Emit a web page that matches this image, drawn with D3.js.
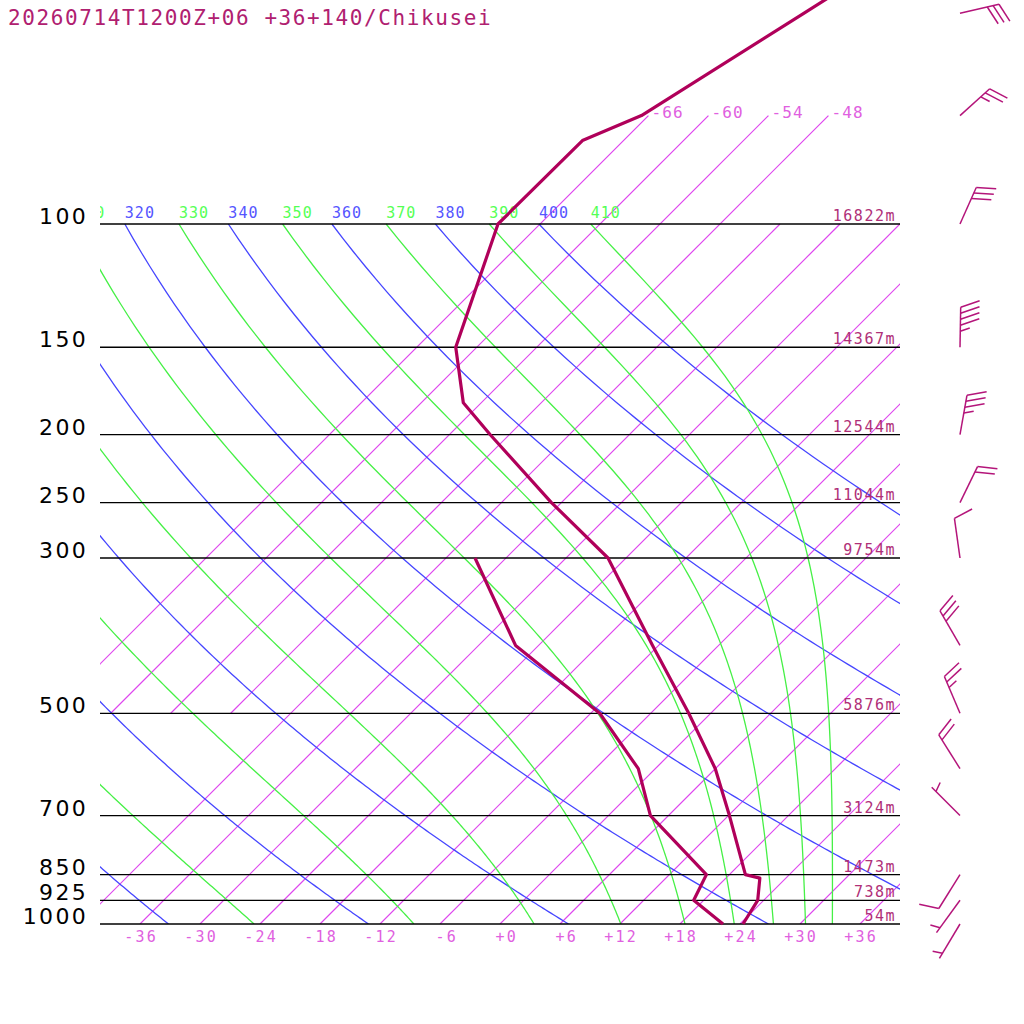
<!DOCTYPE html>
<html>
<head>
<meta charset="utf-8">
<script src="https://cdn.jsdelivr.net/npm/d3@7"></script>
<style>
body { margin: 0; background: #fff; }
text { white-space: pre; }
</style>
</head>
<body>
<div id="chart"></div>
<script>
'use strict'

const title = '20260714T1200Z+06 +36+140/Chikusei'

// standard levels and geopotential heights
const stdLevels = [1000, 925, 850, 700, 500, 300, 250, 200, 150, 100]
const stdHeights = [54, 738, 1473, 3124, 5876, 9754, 11044, 12544, 14367, 16822]

// temperature profile (hPa, degC)
const tempP = [1000, 925, 860, 850, 700, 600, 500, 400, 300, 250, 200, 180, 150, 100, 76, 70, 50, 40]
const tempT = [24.3, 23.4, 21.4, 19.6, 12.1, 6.0, -2.2, -12.6, -25.8, -37.0, -49.9, -55.8, -62.1, -70.2, -70.1, -66.7, -60.7, -56.7]

// dewpoint profile
const dewP = [1000, 925, 850, 700, 600, 500, 400, 300]
const dewT = [22.3, 17.0, 15.7, 4.2, -1.7, -11.1, -26.3, -39.1]

// winds (direction deg, speed kt)
const windP = [1000, 925, 850, 700, 600, 500, 400, 300, 250, 200, 150, 100, 70, 50]
const windDir = [211, 216, 212, 315, 328, 337, 330, 352, 26, 10, 1, 24, 48, 77]
const windKt = [5, 5, 10, 5, 20, 25, 30, 10, 20, 35, 45, 30, 25, 30]

// grid lines
const tempTicks = d3.range(-36, 37, 6)
const isoWarm = d3.range(-42, 37, 6)
const isoCold = [-66, -60, -54, -48]
const dryTheta = d3.range(240, 401, 20)
const moistThetaE = d3.range(250, 411, 20)

////////////////////////////////////
//////////// svg setup /////////////
////////////////////////////////////

const W = 1024, H = 1024
const svg = d3.select('#chart').append('svg')
    .attr('width', W)
    .attr('height', H)
    .style('background', '#fff')

const y = d3.scaleLog().domain([1000, 100]).range([924, 224])
const xT = d3.scaleLinear().domain([-40, 40]).range([100, 900])
const skewX = (t, p) => xT(t) + (y(1000) - y(p))

const lineGen = d3.line().x(d => skewX(d.t, d.p)).y(d => y(d.p))

const defs = svg.append('defs')
defs.append('clipPath').attr('id', 'plot-clip')
    .append('rect').attr('x', 100).attr('y', 0).attr('width', 800).attr('height', 924)

const mono = '"DejaVu Sans Mono", monospace'
const isoColor = 'rgb(222, 70, 238)'

////////////////////////////////////
////////// thermodynamics //////////
////////////////////////////////////

const es = t => 6.112 * Math.exp(17.67 * t / (t + 243.5))

function thetaE(t, p) {
    const e = es(t)
    if (e > 0.8 * p) return 1e9
    const r = 622 * e / (p - e)
    const tk = t + 273.15
    const th = tk * Math.pow(1000 / p, 0.2854 * (1 - 0.00028 * r))
    return th * Math.exp((3.376 / tk - 0.00254) * r * (1 + 0.00081 * r))
}

function moistT(te, p) {
    let lo = -160, hi = 60
    for (let i = 0; i < 50; i++) {
        const mid = (lo + hi) / 2
        if (thetaE(mid, p) > te) hi = mid; else lo = mid
    }
    return (lo + hi) / 2
}

const pLevels = d3.range(1000, 99, -5)

////////////////////////////////////
/////////////// grid ///////////////
////////////////////////////////////

const grid = svg.append('g').attr('clip-path', 'url(#plot-clip)')
    .attr('fill', 'none')

// isotherms
const isoGroup = grid.append('g').attr('stroke', isoColor).attr('stroke-width', 1.2)
isoWarm.forEach(t => {
    isoGroup.append('line')
        .attr('x1', skewX(t, 1000)).attr('y1', y(1000))
        .attr('x2', skewX(t, 100)).attr('y2', y(100))
})
isoCold.forEach(t => {
    isoGroup.append('line')
        .attr('x1', skewX(t, 500)).attr('y1', y(500))
        .attr('x2', skewX(t, 70)).attr('y2', y(70))
})

// dry adiabats
dryTheta.forEach(th => {
    const pts = pLevels.map(p => ({p: p, t: th * Math.pow(p / 1000, 0.286) - 273.15}))
    grid.append('path').attr('d', lineGen(pts))
        .attr('stroke', '#4646ff').attr('stroke-width', 1.3)
})

// moist adiabats
moistThetaE.forEach(te => {
    const pts = pLevels.map(p => ({p: p, t: moistT(te, p)}))
    grid.append('path').attr('d', lineGen(pts))
        .attr('stroke', '#46f046').attr('stroke-width', 1.3)
})

// adiabat labels along 100 hPa
const labels = svg.append('g').attr('clip-path', 'url(#plot-clip)')
    .style('font-family', mono).style('font-size', '15px').style('letter-spacing', '1px')
dryTheta.forEach(th => {
    const x = skewX(th * Math.pow(0.1, 0.286) - 273.15, 100)
    if (x < 70) return
    labels.append('text').attr('x', x).attr('y', 218)
        .attr('fill', '#5555ff').text(th)
})
moistThetaE.forEach(te => {
    const x = skewX(moistT(te, 100), 100)
    if (x < 70) return
    labels.append('text').attr('x', x).attr('y', 218)
        .attr('fill', '#55ff55').text(te)
})

// cold isotherm labels
isoCold.forEach(t => {
    svg.append('text').attr('x', skewX(t, 70) + 3).attr('y', y(70) + 2)
        .style('font-family', mono).style('font-size', '16px').style('letter-spacing', '1.2px')
        .attr('fill', '#e060e0').text(t)
})

// pressure lines
stdLevels.forEach((p, i) => {
    svg.append('line').attr('x1', 100).attr('x2', 900).attr('y1', y(p)).attr('y2', y(p))
        .attr('stroke', '#000').attr('stroke-width', 1.3)
    svg.append('text').attr('x', 88).attr('y', y(p))
        .attr('text-anchor', 'end')
        .style('font-family', '"DejaVu Sans", sans-serif').style('font-size', '22px')
        .style('letter-spacing', '2.3px')
        .attr('fill', '#000').text(p)
    svg.append('text').attr('x', 896).attr('y', y(p) - 3)
        .attr('text-anchor', 'end')
        .style('font-family', mono).style('font-size', '15px').style('letter-spacing', '1.5px')
        .attr('fill', '#b03078').text(stdHeights[i] + 'm')
})

// temperature axis labels
tempTicks.forEach(t => {
    svg.append('text').attr('x', xT(t) + 18).attr('y', 942)
        .attr('text-anchor', 'end')
        .style('font-family', mono).style('font-size', '15px').style('letter-spacing', '2.2px')
        .attr('fill', '#e060e0').text((t >= 0 ? '+' : '') + t)
})

////////////////////////////////////
///////////// profiles /////////////
////////////////////////////////////

const tempData = tempP.map((p, i) => ({p: p, t: tempT[i]}))
const dewData = dewP.map((p, i) => ({p: p, t: dewT[i]}))

svg.append('path').attr('d', lineGen(tempData))
    .attr('fill', 'none').attr('stroke', '#b0005a').attr('stroke-width', 3.2)
    .attr('stroke-linejoin', 'round')
svg.append('path').attr('d', lineGen(dewData))
    .attr('fill', 'none').attr('stroke', '#b0005a').attr('stroke-width', 3.2)
    .attr('stroke-linejoin', 'round')

////////////////////////////////////
/////////////// winds //////////////
////////////////////////////////////

const barbs = svg.append('g')
    .attr('stroke', '#b4157a').attr('stroke-width', 1.5).attr('fill', 'none')

function drawBarb(x0, y0, dir, kt) {
    const a = dir * Math.PI / 180
    const ux = Math.sin(a), uy = -Math.cos(a)
    const L = 40, sp = 6, full = 20
    const b = 70 * Math.PI / 180
    const bx = ux * Math.cos(b) - uy * Math.sin(b)
    const by = ux * Math.sin(b) + uy * Math.cos(b)
    barbs.append('line').attr('x1', x0).attr('y1', y0)
        .attr('x2', x0 + ux * L).attr('y2', y0 + uy * L)
    let n = Math.floor(kt / 10)
    let half = (kt % 10) >= 5
    let d = L
    if (n === 0 && half) d = L - sp
    for (let i = 0; i < n; i++) {
        const sx = x0 + ux * d, sy = y0 + uy * d
        barbs.append('line').attr('x1', sx).attr('y1', sy)
            .attr('x2', sx + bx * full).attr('y2', sy + by * full)
        d -= sp
    }
    if (half) {
        const sx = x0 + ux * d, sy = y0 + uy * d
        barbs.append('line').attr('x1', sx).attr('y1', sy)
            .attr('x2', sx + bx * full / 2).attr('y2', sy + by * full / 2)
    }
}

windP.forEach((p, i) => drawBarb(960, y(p), windDir[i], windKt[i]))

// title
svg.append('text').attr('x', 8).attr('y', 25)
    .style('font-family', mono).style('font-size', '21px').style('letter-spacing', '1.6px')
    .attr('fill', '#b02070').text(title)
</script>
</body>
</html>
